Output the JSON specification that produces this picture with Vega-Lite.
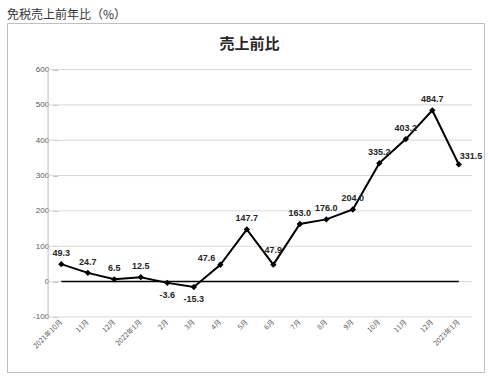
{
  "$schema": "https://vega.github.io/schema/vega-lite/v6.json",
  "width": 477,
  "height": 349,
  "autosize": {"type": "none"},
  "padding": {"left": 7, "top": 23, "right": 8, "bottom": 6},
  "background": "white",
  "title": {"text": "免税売上前年比（%）", "anchor": "start", "frame": "group", "font": "Noto Sans CJK JP", "fontSize": 12, "fontWeight": "normal", "color": "#333333", "offset": 1},
  "config": {"view": {"stroke": "#bfbfbf", "strokeWidth": 1}, "locale": {"number": {"decimal": ".", "thousands": ",", "grouping": [3], "currency": ["$", ""], "minus": "-"}}},
  "datasets": {
    "sales": [
      {"ym": "2021年10月", "v": 49.3},
      {"ym": "2021年11月", "v": 24.7},
      {"ym": "2021年12月", "v": 6.5},
      {"ym": "2022年1月", "v": 12.5},
      {"ym": "2022年2月", "v": -3.6},
      {"ym": "2022年3月", "v": -15.3},
      {"ym": "2022年4月", "v": 47.6},
      {"ym": "2022年5月", "v": 147.7},
      {"ym": "2022年6月", "v": 47.9},
      {"ym": "2022年7月", "v": 163.0},
      {"ym": "2022年8月", "v": 176.0},
      {"ym": "2022年9月", "v": 204.0},
      {"ym": "2022年10月", "v": 335.2},
      {"ym": "2022年11月", "v": 403.2},
      {"ym": "2022年12月", "v": 484.7},
      {"ym": "2023年1月", "v": 331.5}
    ],
    "grid": [{"g": -100}, {"g": 0}, {"g": 100}, {"g": 200}, {"g": 300}, {"g": 400}, {"g": 500}, {"g": 600}]
  },
  "layer": [
    {
      "data": {"name": "grid"},
      "mark": {"type": "rule", "color": "#d9d9d9", "strokeWidth": 1},
      "encoding": {
        "x": {"datum": "2021年10月", "type": "nominal", "bandPosition": 0, "title": null,
          "scale": {"type": "band", "domain": ["2021年10月","2021年11月","2021年12月","2022年1月","2022年2月","2022年3月","2022年4月","2022年5月","2022年6月","2022年7月","2022年8月","2022年9月","2022年10月","2022年11月","2022年12月","2023年1月"], "paddingInner": 0, "paddingOuter": 1.269, "align": 0.775},
          "axis": {"title": null, "orient": "bottom", "offset": -55.3, "domain": false, "ticks": false, "grid": false, "labelAngle": -45, "labelAlign": "right", "labelBaseline": "middle", "labelPadding": 4, "labelFont": "Noto Sans CJK JP", "labelFontSize": 7, "labelColor": "#595959",
            "labelExpr": "datum.value == '2021年10月' || indexof(datum.value, '年1月') >= 0 ? datum.value : substring(datum.value, 5)"}},
        "x2": {"datum": "2023年1月", "bandPosition": 1},
        "y": {"field": "g", "type": "quantitative", "title": null,
          "scale": {"domain": [-255.8, 731.7], "nice": false, "zero": false},
          "axis": {"title": null, "orient": "left", "offset": -50.6, "values": [-100, 0, 100, 200, 300, 400, 500, 600], "grid": false, "domain": false, "ticks": true, "tickSize": 5, "tickColor": "#bfbfbf", "labelPadding": 4, "labelFont": "Liberation Sans", "labelFontSize": 8, "labelColor": "#595959"}}
      }
    },
    {
      "data": {"values": [{}]},
      "mark": {"type": "rule", "color": "#bfbfbf", "strokeWidth": 1},
      "encoding": {
        "x": {"datum": "2021年10月", "type": "nominal", "bandPosition": 0, "title": null},
        "y": {"datum": -100, "type": "quantitative", "title": null},
        "y2": {"datum": 600}
      }
    },
    {
      "data": {"values": [{}]},
      "mark": {"type": "rule", "color": "#000000", "strokeWidth": 1.5},
      "encoding": {
        "x": {"datum": "2021年10月", "type": "nominal", "title": null},
        "x2": {"datum": "2023年1月"},
        "y": {"datum": 0, "type": "quantitative", "title": null}
      }
    },
    {
      "data": {"name": "sales"},
      "mark": {"type": "line", "color": "#000000", "strokeWidth": 2},
      "encoding": {
        "x": {"field": "ym", "type": "nominal", "title": null},
        "y": {"field": "v", "type": "quantitative", "title": null}
      }
    },
    {
      "data": {"name": "sales"},
      "mark": {"type": "point", "shape": "diamond", "filled": true, "color": "#000000", "size": 40, "opacity": 1},
      "encoding": {
        "x": {"field": "ym", "type": "nominal", "title": null},
        "y": {"field": "v", "type": "quantitative", "title": null}
      }
    },
    {
      "data": {"name": "sales"},
      "transform": [{"filter": "datum.v >= 0 && datum.ym != '2022年4月' && datum.ym != '2023年1月' && datum.ym != '2022年6月'"}],
      "mark": {"type": "text", "font": "Liberation Sans", "fontSize": 9, "fontWeight": "bold", "color": "#262626", "baseline": "middle", "dy": -11},
      "encoding": {
        "x": {"field": "ym", "type": "nominal", "title": null},
        "y": {"field": "v", "type": "quantitative", "title": null},
        "text": {"field": "v", "type": "quantitative", "format": ".1f"}
      }
    },
    {
      "data": {"name": "sales"},
      "transform": [{"filter": "datum.ym == '2022年6月'"}],
      "mark": {"type": "text", "font": "Liberation Sans", "fontSize": 9, "fontWeight": "bold", "color": "#262626", "baseline": "middle", "dy": -15},
      "encoding": {
        "x": {"field": "ym", "type": "nominal", "title": null},
        "y": {"field": "v", "type": "quantitative", "title": null},
        "text": {"field": "v", "type": "quantitative", "format": ".1f"}
      }
    },
    {
      "data": {"name": "sales"},
      "transform": [{"filter": "datum.v < 0"}],
      "mark": {"type": "text", "font": "Liberation Sans", "fontSize": 9, "fontWeight": "bold", "color": "#262626", "baseline": "middle", "dy": 12},
      "encoding": {
        "x": {"field": "ym", "type": "nominal", "title": null},
        "y": {"field": "v", "type": "quantitative", "title": null},
        "text": {"field": "v", "type": "quantitative", "format": ".1f"}
      }
    },
    {
      "data": {"name": "sales"},
      "transform": [{"filter": "datum.ym == '2022年4月'"}],
      "mark": {"type": "text", "font": "Liberation Sans", "fontSize": 9, "fontWeight": "bold", "color": "#262626", "baseline": "middle", "align": "right", "dx": -5, "dy": -7},
      "encoding": {
        "x": {"field": "ym", "type": "nominal", "title": null},
        "y": {"field": "v", "type": "quantitative", "title": null},
        "text": {"field": "v", "type": "quantitative", "format": ".1f"}
      }
    },
    {
      "data": {"name": "sales"},
      "transform": [{"filter": "datum.ym == '2023年1月'"}],
      "mark": {"type": "text", "font": "Liberation Sans", "fontSize": 9, "fontWeight": "bold", "color": "#262626", "baseline": "middle", "align": "left", "dx": 1, "dy": -8},
      "encoding": {
        "x": {"field": "ym", "type": "nominal", "title": null},
        "y": {"field": "v", "type": "quantitative", "title": null},
        "text": {"field": "v", "type": "quantitative", "format": ".1f"}
      }
    },
    {
      "data": {"values": [{"t": "売上前比"}]},
      "mark": {"type": "text", "font": "Noto Sans CJK JP", "fontSize": 15, "fontWeight": "bold", "color": "#262626", "baseline": "middle", "dx": 4},
      "encoding": {
        "y": {"datum": 672, "type": "quantitative", "title": null},
        "text": {"field": "t", "type": "nominal"}
      }
    }
  ]
}
